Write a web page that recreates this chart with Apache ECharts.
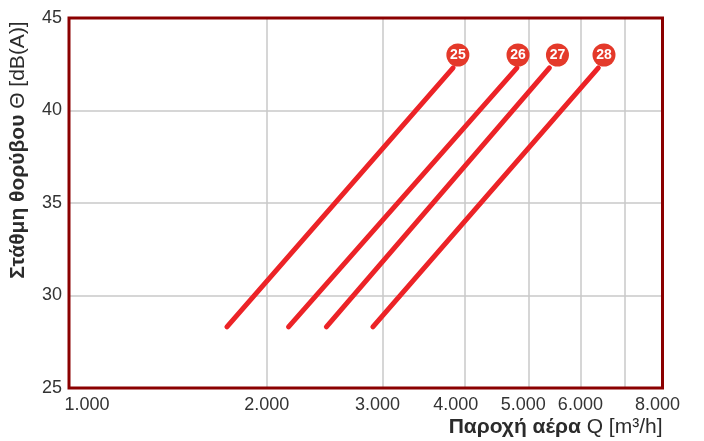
<!DOCTYPE html>
<html>
<head>
<meta charset="utf-8">
<script src="https://cdn.jsdelivr.net/npm/echarts@6/dist/echarts.min.js"></script>
<style>html,body{margin:0;padding:0;background:#fff;}#c{width:704px;height:441px;}</style>
</head>
<body>
<div id="c"></div>
<script>
// Data
const seriesNames = ['25', '26', '27', '28'];
const startQ = [1739, 2158, 2464, 2900];
const startDb = [28.3, 28.3, 28.3, 28.3];
const endQ = [3841, 4804, 5383, 6389];
const endDb = [42.3, 42.3, 42.3, 42.3];
const markerQ = [3906, 4822, 5537, 6517];
const markerDb = [43, 43, 43, 43];
const xTickValues = [1000, 2000, 3000, 4000, 5000, 6000, 7000, 8000];
const xLabelValues = [1000, 2000, 3000, 4000, 5000, 6000, 8000];
const yMin = 25, yMax = 45, yStep = 5;

const labelFont = '"Liberation Sans Narrow", "Arial Narrow", "Liberation Sans", Arial, sans-serif';
const titleFont = '"Liberation Sans", Arial, sans-serif';

const series = [];
seriesNames.forEach((n, i) => {
  series.push({
    type: 'line', name: n, symbol: 'none', silent: true,
    data: [[startQ[i], startDb[i]], [endQ[i], endDb[i]]],
    lineStyle: { color: '#ec2327', width: 5, cap: 'round' },
    z: 3
  });
});
series.push({
  type: 'scatter', symbol: 'circle', symbolSize: 23, silent: true,
  data: seriesNames.map((n, i) => ({ name: n, value: [markerQ[i], markerDb[i]] })),
  itemStyle: { color: '#e4392a', opacity: 1 },
  label: { show: true, position: 'inside', formatter: p => p.name, color: '#fff',
           fontWeight: 'bold', fontSize: 14, fontFamily: titleFont },
  z: 5
});

const labelShift = { 1000: 'r', 3000: 'l', 4000: 'll', 5000: 'l', 8000: 'l' };
const tickLabelStyle = { fontFamily: labelFont, fontSize: 18, color: '#333' };

const chart = echarts.init(document.getElementById('c'), null, { renderer: 'canvas' });
chart.setOption({
  animation: false,
  backgroundColor: '#fff',
  grid: { left: 67.5, right: 41.5, top: 18, bottom: 53, show: true,
          borderColor: '#8b0000', borderWidth: 3, backgroundColor: 'transparent', z: 10 },
  xAxis: {
    type: 'log', logBase: 10, min: 1000, max: 8000,
    name: '{b|Παροχή αέρα} Q [m³/h]', nameLocation: 'end', nameGap: 0,
    nameTextStyle: { fontFamily: titleFont, fontSize: 21, color: '#2b2b2b', align: 'right',
                     verticalAlign: 'top', padding: [29, 0, 0, 0],
                     rich: { b: { fontFamily: titleFont, fontSize: 21, fontWeight: 'bold', color: '#2b2b2b' } } },
    axisLine: { show: false },
    axisTick: { show: false, customValues: xTickValues },
    splitLine: { show: true, lineStyle: { color: '#c8c8c8', width: 1.5 } },
    minorTick: { show: false }, minorSplitLine: { show: false },
    axisLabel: Object.assign({
      customValues: xLabelValues, margin: 8,
      formatter: v => {
        const t = (Math.round(v / 1000)) + '.000';
        const s = labelShift[Math.round(v)];
        return s ? '{' + s + '|' + t + '}' : t;
      },
      rich: {
        r: Object.assign({ padding: [0, 0, 0, 36] }, tickLabelStyle),
        l: Object.assign({ padding: [0, 10, 0, 0] }, tickLabelStyle),
        ll: Object.assign({ padding: [0, 18, 0, 0] }, tickLabelStyle)
      }
    }, tickLabelStyle)
  },
  yAxis: {
    type: 'value', min: yMin, max: yMax, interval: yStep,
    name: '{b|Στάθμη θορύβου} Θ [dB(A)]', nameLocation: 'middle', nameRotate: 90, nameGap: 40,
    nameTextStyle: { fontFamily: titleFont, fontSize: 21, color: '#2b2b2b', padding: [0, 0, 0, 106],
                     rich: { b: { fontFamily: titleFont, fontSize: 21, fontWeight: 'bold', color: '#2b2b2b' } } },
    axisLine: { show: false }, axisTick: { show: false },
    splitLine: { show: true, lineStyle: { color: '#c8c8c8', width: 1.5 } },
    axisLabel: Object.assign({ margin: 7 }, tickLabelStyle)
  },
  series: series
});
</script>
</body>
</html>
